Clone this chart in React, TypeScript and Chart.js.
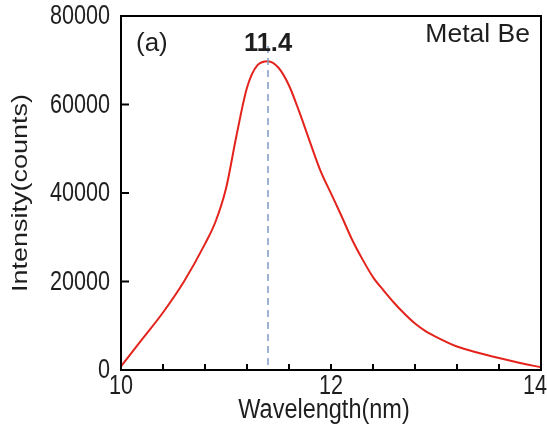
import React, { useEffect, useRef } from "react";
import { Chart, registerables } from "chart.js";

Chart.register(...registerables);

// Emission spectrum of metallic Be
const wavelength = [
  10.0, 10.2, 10.4, 10.6, 10.8, 10.9, 11.0, 11.1, 11.2, 11.3, 11.4, 11.5, 11.6, 11.7,
  11.8, 11.9, 12.0, 12.1, 12.2, 12.3, 12.4, 12.5, 12.6, 12.7, 12.8, 12.9, 13.0, 13.2,
  13.4, 13.6, 13.8, 14.0,
];
const intensity = [
  800, 6900, 13000, 20000, 28500, 33500, 41000, 53000, 63800, 68900, 69800, 68300,
  64300, 58200, 51500, 45000, 39900, 34800, 29500, 25000, 21000, 18000, 15200, 12700,
  10500, 8800, 7500, 5300, 3900, 2700, 1600, 600,
];
const peakWavelength = 11.4;
const peakLabel = "11.4";
const panelLabel = "(a)";
const sampleLabel = "Metal Be";
const xMajorLabels = [10, 12, 14];
const yTickLabels = ["0", "20000", "40000", "60000", "80000"];
const xTitle = "Wavelength(nm)";
const yTitle = "Intensity(counts)";

const FONT = "'Liberation Sans', Arial, sans-serif";
const TEXT = "#1e1e1e";

// Draws text squeezed horizontally (narrow face), optionally rotated.
function narrowText(
  ctx: CanvasRenderingContext2D,
  text: string,
  x: number,
  y: number,
  font: string,
  squeeze: number,
  align: CanvasTextAlign,
  rotated = false
) {
  ctx.save();
  ctx.translate(x, y);
  ctx.font = font;
  ctx.textAlign = align;
  ctx.textBaseline = "middle";
  if (rotated) {
    ctx.rotate(-Math.PI / 2);
    ctx.scale(1, squeeze);
  } else {
    ctx.scale(squeeze, 1);
  }
  ctx.fillText(text, 0, 0);
  ctx.restore();
}

const framePlugin = {
  id: "frame",
  afterDatasetsDraw(chart: any) {
    const { ctx, chartArea: a, scales, width } = chart;
    const xs = scales.x;
    const ys = scales.y;
    ctx.save();
    // dashed marker at the peak
    const px = xs.getPixelForValue(peakWavelength);
    ctx.strokeStyle = "#7f9bc4";
    ctx.lineWidth = 1.5;
    ctx.setLineDash([7, 5]);
    ctx.beginPath();
    ctx.moveTo(px, a.top + 30);
    ctx.lineTo(px, a.bottom);
    ctx.stroke();
    ctx.setLineDash([]);

    // frame
    ctx.strokeStyle = "#000";
    ctx.lineWidth = 2;
    ctx.strokeRect(a.left, a.top, a.right - a.left, a.bottom - a.top);

    // inward ticks
    ctx.beginPath();
    for (const t of xs.ticks) {
      const x = xs.getPixelForValue(t.value);
      if (x <= a.left + 1 || x >= a.right - 1) continue;
      ctx.moveTo(x, a.bottom);
      ctx.lineTo(x, a.bottom - 6);
    }
    for (const t of ys.ticks) {
      const y = ys.getPixelForValue(t.value);
      if (y <= a.top + 1 || y >= a.bottom - 1) continue;
      ctx.moveTo(a.left, y);
      ctx.lineTo(a.left + 8, y);
    }
    ctx.stroke();

    ctx.fillStyle = TEXT;
    const tickFont = `27px ${FONT}`;
    const sq = 0.8;
    // y tick labels
    yTickLabels.forEach((lab) => {
      const y = ys.getPixelForValue(Number(lab));
      narrowText(ctx, lab, a.left - 11, y + 1, tickFont, sq, "right");
    });
    // x tick labels
    ctx.font = tickFont;
    xMajorLabels.forEach((v) => {
      const lab = String(v);
      const w = ctx.measureText(lab).width * sq;
      const x = Math.min(xs.getPixelForValue(v), width - w / 2);
      narrowText(ctx, lab, x, a.bottom + 17, tickFont, sq, "center");
    });
    // axis titles
    narrowText(ctx, xTitle, (a.left + a.right) / 2 - 7, a.bottom + 41, `27px ${FONT}`, 0.87, "center");
    narrowText(ctx, yTitle, 21, (a.top + a.bottom) / 2, `27px ${FONT}`, 0.85, "center", true);

    // annotations
    narrowText(ctx, panelLabel, a.left + 15, a.top + 28, `26px ${FONT}`, 1, "left");
    narrowText(ctx, sampleLabel, a.right - 11, a.top + 19, `26px ${FONT}`, 1.02, "right");
    narrowText(ctx, peakLabel, px, a.top + 28, `bold 25px ${FONT}`, 1.02, "center");
    ctx.restore();
  },
};

export default function App() {
  const ref = useRef<HTMLCanvasElement>(null);

  useEffect(() => {
    if (!ref.current) return;
    const chart = new Chart(ref.current, {
      type: "line",
      data: {
        datasets: [
          {
            data: wavelength.map((w, i) => ({ x: w, y: intensity[i] })),
            borderColor: "#e3231c",
            borderWidth: 2,
            pointRadius: 0,
            cubicInterpolationMode: "monotone",
          },
        ],
      },
      options: {
        animation: false,
        responsive: false,
        layout: { padding: { top: 16, right: 6, left: 0, bottom: 0 } },
        plugins: { legend: { display: false }, tooltip: { enabled: false } },
        scales: {
          x: {
            type: "linear",
            min: 10,
            max: 14,
            border: { display: false },
            grid: { display: false, drawTicks: false },
            ticks: { display: false, stepSize: 0.4, autoSkip: false },
            afterFit: (s: any) => {
              s.height = 58;
            },
          },
          y: {
            min: 0,
            max: 80000,
            border: { display: false },
            grid: { display: false, drawTicks: false },
            ticks: { display: false, stepSize: 20000 },
            afterFit: (s: any) => {
              s.width = 121;
            },
          },
        },
      },
      plugins: [framePlugin],
    });
    return () => chart.destroy();
  }, []);

  return (
    <div style={{ position: "fixed", left: 0, top: 0, width: 547, height: 428, background: "#fff" }}>
      <canvas ref={ref} width={547} height={428} style={{ display: "block" }} />
    </div>
  );
}
